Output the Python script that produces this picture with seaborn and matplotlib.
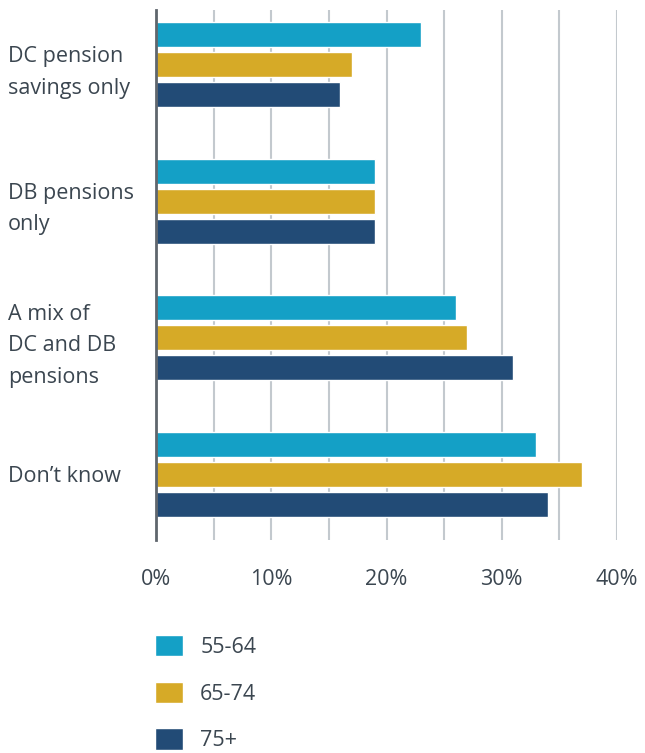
import matplotlib
matplotlib.use("Agg")
import matplotlib.pyplot as plt
import seaborn as sns
import pandas as pd

# values (percent)
categories = ["DC pension\nsavings only", "DB pensions\nonly", "A mix of\nDC and DB\npensions", "Don\u2019t know"]
age_groups = ["55-64", "65-74", "75+"]
vals_55_64 = [23, 19, 26, 33]
vals_65_74 = [17, 19, 27, 37]
vals_75_plus = [16, 19, 31, 34]
colors = ["#14a0c6", "#d6aa27", "#224b76"]
x_ticks = [0, 10, 20, 30, 40]
x_tick_labels = ["0%", "10%", "20%", "30%", "40%"]

rows = []
for age, vals in zip(age_groups, [vals_55_64, vals_65_74, vals_75_plus]):
    for cat, v in zip(categories, vals):
        rows.append({"category": cat, "age": age, "value": v})
df = pd.DataFrame(rows)

sns.set_style("white")
plt.rcParams["font.family"] = ["Open Sans", "DejaVu Sans"]
text_col = "#3b4650"
fs = 15.5

fig = plt.figure(figsize=(6.45, 7.53), dpi=100)
ax = fig.add_axes([156 / 645, 1 - 540 / 753, (617 - 156) / 645, 530 / 753])

sns.barplot(data=df, y="category", x="value", hue="age", orient="h",
            palette=colors, width=0.66, gap=0.17, saturation=1,
            order=categories, hue_order=age_groups, ax=ax, zorder=3)

ax.set_xlim(0, 40)
ax.set_ylim(3.48, -0.4)
ax.set_xticks(x_ticks)
ax.set_xticks([5, 15, 25, 35], minor=True)
ax.set_xticklabels(x_tick_labels, fontsize=fs, color=text_col)
ax.grid(axis="x", which="both", color="#c3c9ce", linewidth=1.5, zorder=0)
ax.set_axisbelow(True)
ax.set_xlabel("")
ax.set_ylabel("")

for s in ["top", "right", "bottom"]:
    ax.spines[s].set_visible(False)
ax.spines["left"].set_color("#5f666d")
ax.spines["left"].set_linewidth(2)
ax.spines["left"].set_zorder(5)

ax.tick_params(axis="both", which="both", length=0)
ax.tick_params(axis="x", pad=21)
ax.tick_params(axis="y", pad=148 * 0.72)
for lbl in ax.get_yticklabels():
    lbl.set_horizontalalignment("left")
    lbl.set_fontsize(fs)
    lbl.set_color(text_col)
    lbl.set_linespacing(1.66)

handles, labels = ax.get_legend_handles_labels()
ax.get_legend().remove()
fig.legend(handles, labels, loc="upper left", bbox_to_anchor=(155 / 645, 1 - 635 / 753),
           frameon=False, fontsize=fs, labelcolor=text_col, borderpad=0, borderaxespad=0,
           handlelength=1.3, handleheight=1.15, handletextpad=0.8, labelspacing=1.1)

fig.savefig("out.png", dpi=100)
